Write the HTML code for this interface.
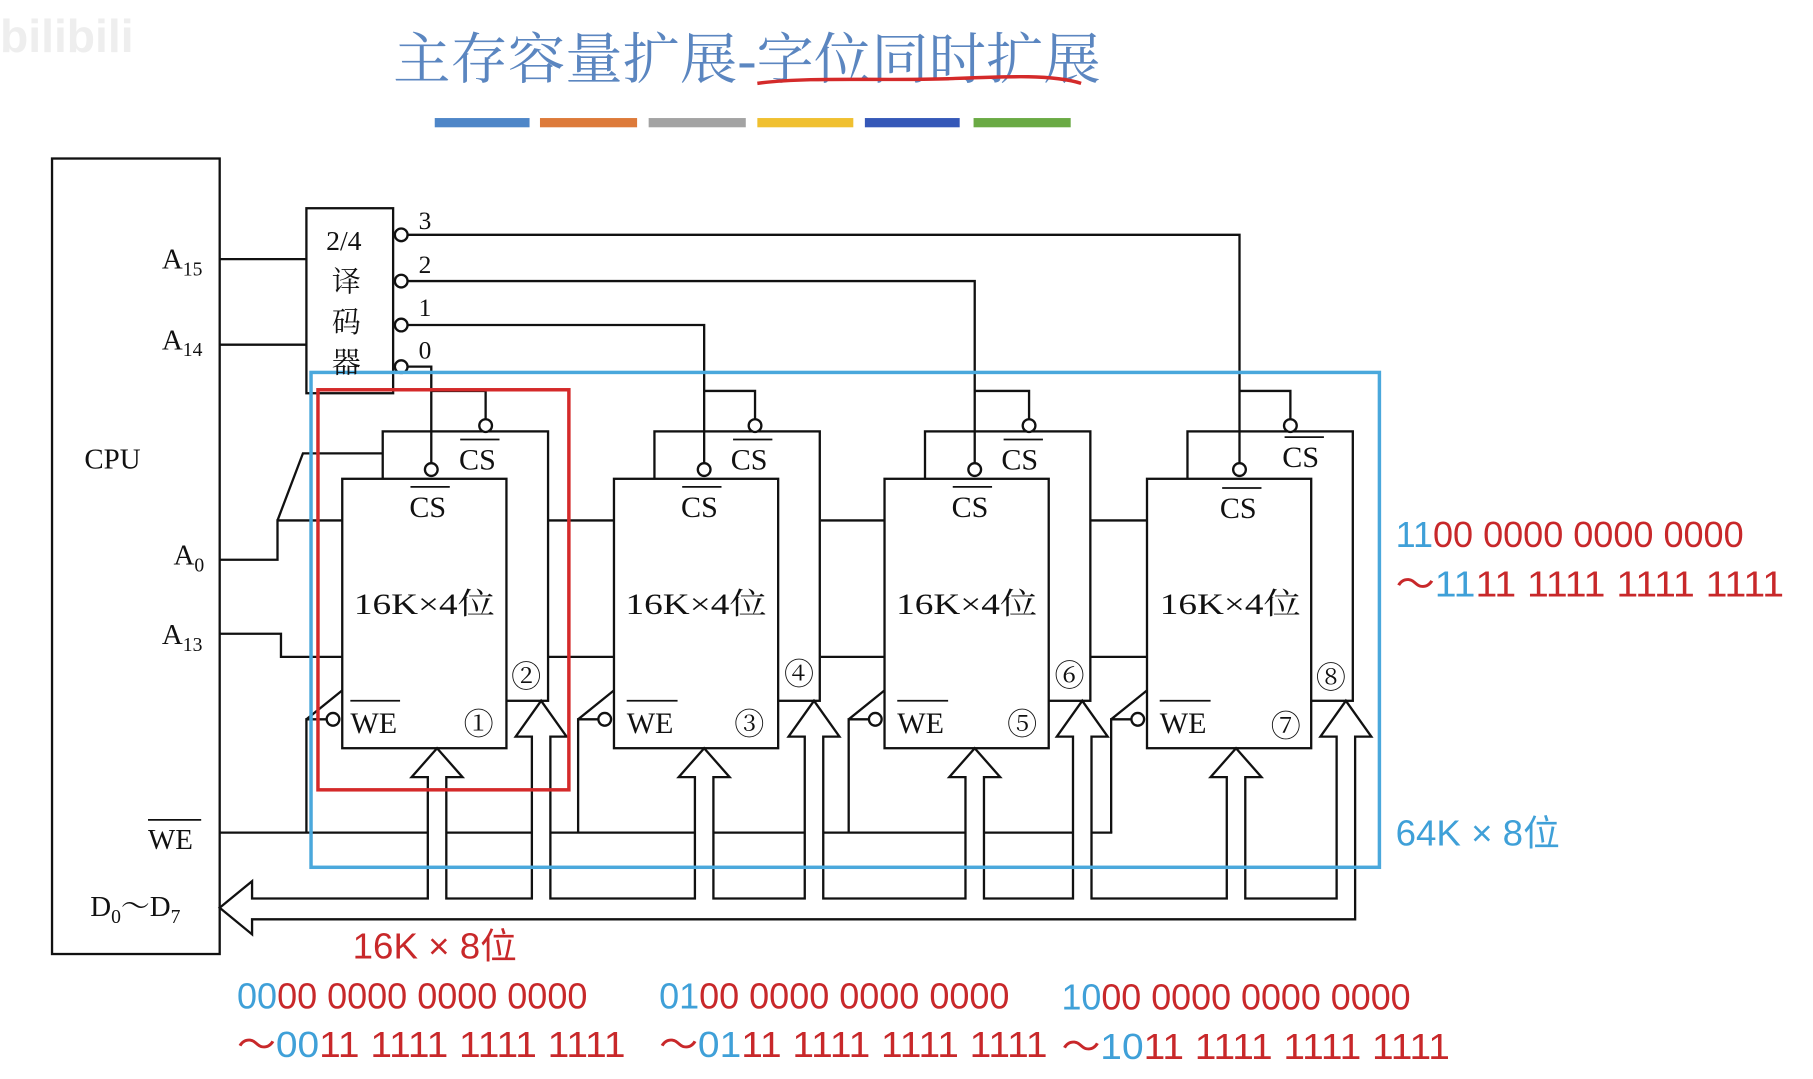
<!DOCTYPE html>
<html><head><meta charset="utf-8"><style>
html,body{margin:0;padding:0;background:#fff;width:1813px;height:1079px;overflow:hidden}
svg{display:block}
.s{font-family:"Liberation Serif","Noto Serif CJK SC",serif;fill:#111}
.n{font-family:"Liberation Sans","Noto Sans CJK SC",sans-serif}
</style></head><body>
<svg width="1813" height="1079" viewBox="0 0 1568 933" xmlns="http://www.w3.org/2000/svg">
<g fill="none" stroke="#111" stroke-width="2">
<text x="340" y="68" font-size="48" fill="#5b86c0" stroke="none" style="font-family:'Liberation Serif','Noto Serif CJK SC',serif" textLength="612" lengthAdjust="spacingAndGlyphs">主存容量扩展-字位同时扩展</text>
<path d="M655,72 C700,66 760,70 820,68 C870,66 910,64 935,72" stroke="#d42a2a" stroke-width="3"/>
<rect x="376" y="102" width="82" height="8" fill="#4e86c8" stroke="none"/>
<rect x="467" y="102" width="84" height="8" fill="#dd7a3a" stroke="none"/>
<rect x="561" y="102" width="84" height="8" fill="#a3a3a3" stroke="none"/>
<rect x="655" y="102" width="83" height="8" fill="#f0c030" stroke="none"/>
<rect x="748" y="102" width="82" height="8" fill="#3558b8" stroke="none"/>
<rect x="842" y="102" width="84" height="8" fill="#6aaa44" stroke="none"/>

<rect x="45" y="137" width="145" height="688"/>
<rect x="265" y="180" width="75" height="160"/>
<path d="M190,224H265M190,298H265"/>

<path d="M190,484H240V450H296M240,450L262,392H331M190,548H243V568H296"/>
<path d="M474,450H531M710,450H765M944,450H992M474,568H531M710,568H765M944,568H992"/>
<path d="M190,720H370M386,720H461M476,720H602M617,720H697M712,720H836M851,720H929M944,720H962"/>

<g><rect x="331" y="373" width="143" height="233" fill="#fff"/><rect x="296" y="414" width="142" height="233" fill="#fff"/><circle cx="288" cy="622" r="5.5" fill="#fff"/><path d="M282,622H265V720M265,622L296,597"/></g>
<g transform="translate(235,0)"><rect x="331" y="373" width="143" height="233" fill="#fff"/><rect x="296" y="414" width="142" height="233" fill="#fff"/><circle cx="288" cy="622" r="5.5" fill="#fff"/><path d="M282,622H265V720M265,622L296,597"/></g>
<g transform="translate(469,0)"><rect x="331" y="373" width="143" height="233" fill="#fff"/><rect x="296" y="414" width="142" height="233" fill="#fff"/><circle cx="288" cy="622" r="5.5" fill="#fff"/><path d="M282,622H265V720M265,622L296,597"/></g>
<g transform="translate(696,0)"><rect x="331" y="373" width="143" height="233" fill="#fff"/><rect x="296" y="414" width="142" height="233" fill="#fff"/><circle cx="288" cy="622" r="5.5" fill="#fff"/><path d="M282,622H265V720M265,622L296,597"/></g>

<path d="M352,203H1072V400M352,243H843V400M352,281H609V400M352,317H373V400"/>
<path d="M373,338H420V362M609,338H653V362M843,338H890V362M1072,338H1116V362"/>
<circle cx="347" cy="203" r="5.5" fill="#fff"/><circle cx="347" cy="243" r="5.5" fill="#fff"/>
<circle cx="347" cy="281" r="5.5" fill="#fff"/><circle cx="347" cy="317" r="5.5" fill="#fff"/>
<circle cx="373" cy="406" r="5.5" fill="#fff"/><circle cx="609" cy="406" r="5.5" fill="#fff"/>
<circle cx="843" cy="406" r="5.5" fill="#fff"/><circle cx="1072" cy="406" r="5.5" fill="#fff"/>
<circle cx="420" cy="368" r="5.5" fill="#fff"/><circle cx="653" cy="368" r="5.5" fill="#fff"/>
<circle cx="890" cy="368" r="5.5" fill="#fff"/><circle cx="1116" cy="368" r="5.5" fill="#fff"/>

<path fill="#fff" d="M218,777H370V672H356L378,647L400,672H386V777H460V637H446L468,606L490,637H476V777H601V672H587L609,647L631,672H617V777H696V637H682L704,606L726,637H712V777H835V672H821L843,647L865,672H851V777H928V637H914L936,606L958,637H944V777H1061V672H1047L1069,647L1091,672H1077V777H1156V637H1142L1164,606L1186,637H1172V795H218V808L190,785L218,762Z"/>

<rect x="269" y="322" width="924" height="428" stroke="#4aa8dc" stroke-width="3"/>
<rect x="275" y="337" width="217" height="346" stroke="#d42a2a" stroke-width="3"/>
</g>

<g class="s" font-size="25">
<text x="73" y="405">CPU</text>
<text x="140" y="232">A<tspan font-size="17" dy="6">15</tspan></text>
<text x="140" y="302">A<tspan font-size="17" dy="6">14</tspan></text>
<text x="150" y="488">A<tspan font-size="17" dy="6">0</tspan></text>
<text x="140" y="557">A<tspan font-size="17" dy="6">13</tspan></text>
<text x="128" y="734">WE</text>
<text x="78" y="792">D<tspan font-size="17" dy="6">0</tspan><tspan dy="-6">～D</tspan><tspan font-size="17" dy="6">7</tspan></text>
<text x="282" y="216" font-size="24">2/4</text>
<text x="287" y="252" font-size="25">译</text>
<text x="287" y="287" font-size="25">码</text>
<text x="287" y="322" font-size="25">器</text>
<text x="362" y="198" font-size="22">3</text>
<text x="362" y="236" font-size="22">2</text>
<text x="362" y="273" font-size="22">1</text>
<text x="362" y="310" font-size="22">0</text>
<g font-size="26">
<text x="397" y="406">CS</text><text x="354" y="447">CS</text><text x="303" y="634">WE</text><text x="306" y="531" textLength="122" lengthAdjust="spacingAndGlyphs">16K×4位</text>
<text x="632" y="406">CS</text><text x="589" y="447">CS</text><text x="542" y="634">WE</text><text x="541" y="531" textLength="122" lengthAdjust="spacingAndGlyphs">16K×4位</text>
<text x="866" y="406">CS</text><text x="823" y="447">CS</text><text x="776" y="634">WE</text><text x="775" y="531" textLength="122" lengthAdjust="spacingAndGlyphs">16K×4位</text>
<text x="1109" y="404">CS</text><text x="1055" y="448">CS</text><text x="1003" y="634">WE</text><text x="1003" y="531" textLength="122" lengthAdjust="spacingAndGlyphs">16K×4位</text>
<text x="401" y="635">①</text><text x="442" y="594">②</text><text x="635" y="635">③</text><text x="678" y="592">④</text>
<text x="871" y="635">⑤</text><text x="912" y="593">⑥</text><text x="1099" y="637">⑦</text><text x="1138" y="595">⑧</text>
</g>
</g>
<g stroke="#111" stroke-width="1.5"><path d="M398,380H432M355,421H389M303,606H346M634,380H668M590,421H624M542,606H586M868,380H902M824,421H858M776,606H820M1111,378H1145M1057,422H1091M1003,606H1047M128,709H174"/></g>

<g class="n" font-size="31">
<text x="1207" y="473" textLength="301" lengthAdjust="spacingAndGlyphs" fill="#c8282a"><tspan fill="#3fa0d8">11</tspan>00 0000 0000 0000</text>
<text x="1207" y="516" textLength="336" lengthAdjust="spacingAndGlyphs" fill="#c8282a">～<tspan fill="#3fa0d8">11</tspan>11 1111 1111 1111</text>
<text x="1207" y="731" fill="#3fa0d8" textLength="142" lengthAdjust="spacingAndGlyphs">64K × 8位</text>
<text x="305" y="829" fill="#c8282a" textLength="142" lengthAdjust="spacingAndGlyphs">16K × 8位</text>
<text x="205" y="872" textLength="303" lengthAdjust="spacingAndGlyphs" fill="#c8282a"><tspan fill="#3fa0d8">00</tspan>00 0000 0000 0000</text>
<text x="205" y="914" textLength="336" lengthAdjust="spacingAndGlyphs" fill="#c8282a">～<tspan fill="#3fa0d8">00</tspan>11 1111 1111 1111</text>
<text x="570" y="872" textLength="303" lengthAdjust="spacingAndGlyphs" fill="#c8282a"><tspan fill="#3fa0d8">01</tspan>00 0000 0000 0000</text>
<text x="570" y="914" textLength="336" lengthAdjust="spacingAndGlyphs" fill="#c8282a">～<tspan fill="#3fa0d8">01</tspan>11 1111 1111 1111</text>
<text x="918" y="873" textLength="302" lengthAdjust="spacingAndGlyphs" fill="#c8282a"><tspan fill="#3fa0d8">10</tspan>00 0000 0000 0000</text>
<text x="918" y="916" textLength="336" lengthAdjust="spacingAndGlyphs" fill="#c8282a">～<tspan fill="#3fa0d8">10</tspan>11 1111 1111 1111</text>
</g>
<text x="0" y="45" font-size="40" fill="#eeeeee" class="n" font-weight="bold">bilibili</text>
</svg>
</body></html>
